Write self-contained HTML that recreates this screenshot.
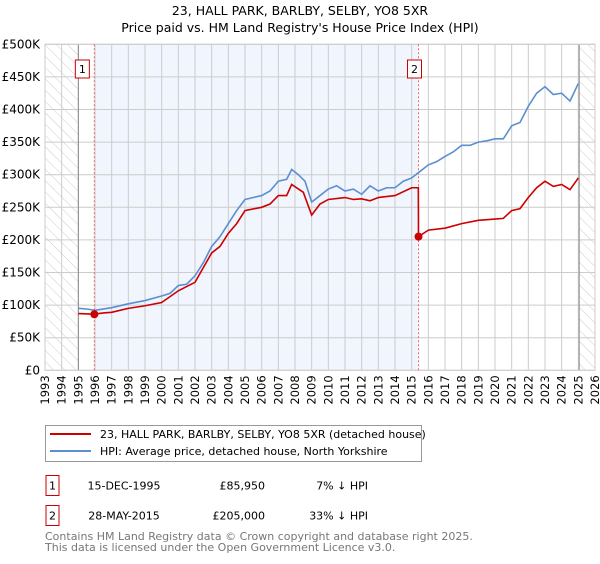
<!DOCTYPE html>
<html><head><meta charset="utf-8"><style>
body{margin:0;background:#fff;width:600px;height:560px;overflow:hidden;font-family:"DejaVu Sans","Liberation Sans",sans-serif;}
svg text{font-family:"DejaVu Sans","Liberation Sans",sans-serif;}
</style></head><body>
<svg id="chart" width="600" height="560" viewBox="0 0 600 560" xmlns="http://www.w3.org/2000/svg">
<defs><pattern id="hatch" width="8" height="8" patternUnits="userSpaceOnUse" patternTransform="rotate(-45)"><rect width="8" height="8" fill="#fff"/><line x1="0" y1="0" x2="0" y2="8" stroke="#ccc" stroke-width="1"/></pattern></defs>
<text x="300" y="15" font-size="12.5" text-anchor="middle">23, HALL PARK, BARLBY, SELBY, YO8 5XR</text>
<text x="300" y="32" font-size="12.5" text-anchor="middle">Price paid vs. HM Land Registry's House Price Index (HPI)</text>
<g id="plot"></g>
<g>
<rect x="45.5" y="425.5" width="376" height="36" fill="#fff" stroke="#999"/>
<line x1="50" y1="434" x2="91" y2="434" stroke="#cc0000" stroke-width="2"/>
<text x="100" y="438" font-size="11">23, HALL PARK, BARLBY, SELBY, YO8 5XR (detached house)</text>
<line x1="50" y1="451" x2="91" y2="451" stroke="#5b8fd0" stroke-width="2"/>
<text x="100" y="455" font-size="11">HPI: Average price, detached house, North Yorkshire</text>
</g>
<g font-size="11">
<rect x="46" y="475.5" width="13" height="20" fill="#fff" stroke="#cc0000"/>
<text x="52.5" y="489.5" text-anchor="middle">1</text>
<text x="124" y="489.5" text-anchor="middle">15-DEC-1995</text>
<text x="265" y="489.5" text-anchor="end">£85,950</text>
<text x="368" y="489.5" text-anchor="end">7% ↓ HPI</text>
<rect x="46" y="505.5" width="13" height="20" fill="#fff" stroke="#cc0000"/>
<text x="52.5" y="519.5" text-anchor="middle">2</text>
<text x="124" y="519.5" text-anchor="middle">28-MAY-2015</text>
<text x="265" y="519.5" text-anchor="end">£205,000</text>
<text x="368" y="519.5" text-anchor="end">33% ↓ HPI</text>
</g>
<text x="45" y="540" font-size="11" fill="#777">Contains HM Land Registry data © Crown copyright and database right 2025.</text>
<text x="45" y="551" font-size="11" fill="#777">This data is licensed under the Open Government Licence v3.0.</text>
</svg>
<script>
const hpiYears=[1995,1995.5,1996,1997,1998,1999,2000,2000.5,2001,2001.5,2002,2002.5,2003,2003.5,2004,2004.5,2005,2005.5,2006,2006.5,2007,2007.5,2007.8,2008.2,2008.6,2009,2009.5,2010,2010.5,2011,2011.5,2012,2012.5,2013,2013.5,2014,2014.5,2015,2015.5,2016,2016.5,2017,2017.5,2018,2018.5,2019,2019.5,2020,2020.5,2021,2021.5,2022,2022.5,2023,2023.5,2024,2024.5,2025];
const hpiValues=[95,94,92,96,102,107,114,118,130,132,145,165,190,205,225,245,262,265,268,275,290,293,308,300,290,258,268,278,283,275,278,270,283,275,280,280,290,295,305,315,320,328,335,345,345,350,352,355,355,375,380,405,425,435,423,425,413,440];
const ppYears=[1995,1995.96,1996.5,1997,1998,1999,2000,2001,2002,2003,2003.5,2004,2004.5,2005,2006,2006.5,2007,2007.5,2007.8,2008.5,2009,2009.5,2010,2011,2011.5,2012,2012.5,2013,2014,2015,2015.4,2015.41,2016,2017,2018,2019,2020,2020.5,2021,2021.5,2022,2022.5,2023,2023.5,2024,2024.5,2025];
const ppValues=[87,86,88,89,95,99,104,122,135,180,190,210,225,245,250,255,268,268,285,273,238,255,262,265,262,263,260,265,268,280,280,205,215,218,225,230,232,233,245,248,265,280,290,282,285,277,295];
const sales=[{n:"1",year:1995.96,value:85.95},{n:"2",year:2015.41,value:205}];
const yTicks=[0,50,100,150,200,250,300,350,400,450,500];
const yLabels=["£0","£50K","£100K","£150K","£200K","£250K","£300K","£350K","£400K","£450K","£500K"];
const xTicks=[1993,1994,1995,1996,1997,1998,1999,2000,2001,2002,2003,2004,2005,2006,2007,2008,2009,2010,2011,2012,2013,2014,2015,2016,2017,2018,2019,2020,2021,2022,2023,2024,2025,2026];

const L=45,R=595,T=44.3,B=370.3,X0=1993,X1=2026;
const xs=y=>L+(y-X0)/(X1-X0)*(R-L);
const ys=v=>B-v/500*(B-T);
const NS="http://www.w3.org/2000/svg";
const g=document.getElementById('plot');
function mk(t,a,p){const e=document.createElementNS(NS,t);for(const k in a)e.setAttribute(k,a[k]);(p||g).appendChild(e);return e;}

let e;
e=mk('rect',{x:xs(1993),y:T,width:xs(1995)-xs(1993),height:B-T,fill:'url(#hatch)'});


e=mk('rect',{x:xs(2025.05),y:T,width:R-xs(2025.05),height:B-T,fill:'url(#hatch)'});


e=mk('rect',{x:xs(sales[0].year),y:T,width:xs(sales[1].year)-xs(sales[0].year),height:B-T,fill:'#eef3fd',opacity:0.8});



yTicks.forEach((v,i)=>{
  e=mk('line',{x1:L,x2:R,y1:ys(v),y2:ys(v),stroke:'#ccc','stroke-width':1});
  
  
  e=mk('text',{x:40,y:ys(v)+4,'font-size':12,'text-anchor':'end'});
  e.textContent=yLabels[i];
  
  
});
xTicks.forEach(yr=>{
  e=mk('line',{x1:xs(yr),x2:xs(yr),y1:T,y2:B,stroke:'#ccc','stroke-width':1});
  
  
  e=mk('text',{x:0,y:0,'font-size':11.5,'text-anchor':'end',transform:`translate(${xs(yr)+4},${B+5}) rotate(-90)`});
  e.textContent=yr;
  
  
});
e=mk('line',{x1:xs(1995),x2:xs(1995),y1:T,y2:B,stroke:'#888','stroke-width':1});


e=mk('line',{x1:xs(2025.05),x2:xs(2025.05),y1:T,y2:B,stroke:'#888','stroke-width':1});


e=mk('rect',{x:L,y:T,width:R-L,height:B-T,fill:'none',stroke:'#ccc'});



sales.forEach(s=>{
  e=mk('line',{x1:xs(s.year),x2:xs(s.year),y1:T,y2:B,stroke:'#e66','stroke-width':1,'stroke-dasharray':'2,2'});
  
  
});

e=mk('polyline',{points:hpiYears.map((y,i)=>xs(y)+','+ys(hpiValues[i])).join(' '),fill:'none',stroke:'#5b8fd0','stroke-width':1.6});


e=mk('polyline',{points:ppYears.map((y,i)=>xs(y)+','+ys(ppValues[i])).join(' '),fill:'none',stroke:'#cc0000','stroke-width':1.6});



sales.forEach(s=>{
  e=mk('circle',{cx:xs(s.year),cy:ys(s.value),r:4,fill:'#cc0000'});
  
  
  const bx=xs(s.year)-(s.n==="1"?12:4)-7;
  e=mk('rect',{x:bx,y:60,width:14,height:18,fill:'#fff',stroke:'#cc0000'});
  
  
  e=mk('text',{x:bx+7,y:73,'font-size':11,'text-anchor':'middle'});
  e.textContent=s.n;
  
  
});
</script>
</body></html>
